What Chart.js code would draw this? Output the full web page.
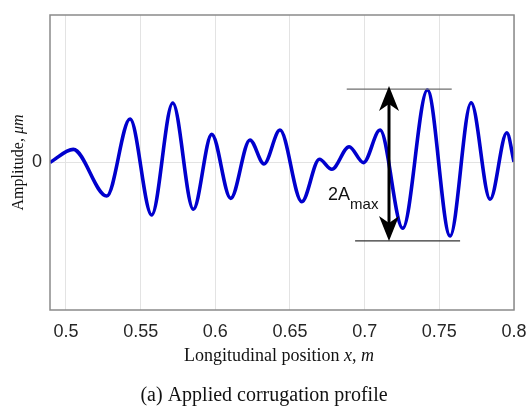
<!DOCTYPE html>
<html lang="en">
<head>
<meta charset="UTF-8">
<script src="https://cdn.jsdelivr.net/npm/chart.js@4.4.1/dist/chart.umd.min.js"></script>
<title>Applied corrugation profile</title>
<style>
  html, body { margin: 0; padding: 0; background: #fff; }
  #wrap { width: 527px; height: 407px; position: relative; }
</style>
</head>
<body>
<div id="wrap"><canvas id="chart1"></canvas></div>
<script>
// longitudinal position (m), read at the peaks/troughs of the profile
var positions = [0.4893, 0.5049, 0.5273, 0.5429, 0.5574, 0.5715, 0.5853, 0.5976, 0.6103, 0.6232,
                 0.6326, 0.6433, 0.6579, 0.6697, 0.6780, 0.6896, 0.6992, 0.7103, 0.7255, 0.7420,
                 0.7572, 0.7713, 0.7840, 0.7952, 0.8000];
// amplitude (relative, axis runs -1 .. 1)
var amplitude = [0.000, 0.089, -0.227, 0.295, -0.356, 0.403, -0.317, 0.191, -0.243, 0.153,
                 -0.010, 0.220, -0.266, 0.022, -0.046, 0.107, -0.001, 0.220, -0.446, 0.492,
                 -0.498, 0.405, -0.249, 0.202, 0.005];

var xTicks = [0.5, 0.55, 0.6, 0.65, 0.7, 0.75, 0.8];
var xTickLabels = ['0.5', '0.55', '0.6', '0.65', '0.7', '0.75', '0.8'];
var yTicks = [0];
var yTickLabels = ['0'];

// 2A_max annotation (data units)
var annTop = 0.498, annBottom = -0.532;
var annTopFrom = 0.6880, annTopTo = 0.7583;
var annBotFrom = 0.6936, annBotTo = 0.7639;
var arrowX = 0.7163;
var labelX = 0.6755, labelY = -0.254;

var points = positions.map((x, i) => ({ x: x, y: amplitude[i] }));

function drawRuns(ctx, runs, x, y, align) {
    var total = 0;
    runs.forEach(r => { ctx.font = r[1]; total += ctx.measureText(r[0]).width; });
    var cx = align === 'center' ? x - total / 2 : x;
    runs.forEach(r => {
        ctx.font = r[1];
        ctx.fillText(r[0], cx, y);
        cx += ctx.measureText(r[0]).width;
    });
}

function arrowHead(ctx, x, y, dir) {
    // dir = -1 points up, 1 points down
    ctx.beginPath();
    ctx.moveTo(x, y);
    ctx.lineTo(x - 10, y - dir * 25);
    ctx.lineTo(x, y - dir * 18);
    ctx.lineTo(x + 10, y - dir * 25);
    ctx.closePath();
    ctx.fill();
}

function noPad(s) {
    s.paddingLeft = 0; s.paddingRight = 0; s.paddingTop = 0; s.paddingBottom = 0;
}

var extras = {
    id: 'extras',
    afterDraw(chart) {
        var ctx = chart.ctx, a = chart.chartArea;
        var xs = chart.scales.x, ys = chart.scales.y;
        ctx.save();

        // axes box
        ctx.strokeStyle = '#8a8a8a';
        ctx.lineWidth = 1.5;
        ctx.strokeRect(a.left, a.top, a.right - a.left, a.bottom - a.top);

        // reference lines
        ctx.lineWidth = 1.3;
        ctx.strokeStyle = '#6e6e6e';
        ctx.beginPath();
        ctx.moveTo(xs.getPixelForValue(annTopFrom), ys.getPixelForValue(annTop));
        ctx.lineTo(xs.getPixelForValue(annTopTo), ys.getPixelForValue(annTop));
        ctx.stroke();
        ctx.strokeStyle = '#333';
        ctx.beginPath();
        ctx.moveTo(xs.getPixelForValue(annBotFrom), ys.getPixelForValue(annBottom));
        ctx.lineTo(xs.getPixelForValue(annBotTo), ys.getPixelForValue(annBottom));
        ctx.stroke();

        // double arrow
        var ax = xs.getPixelForValue(arrowX);
        var y1 = ys.getPixelForValue(annTop) - 3, y2 = ys.getPixelForValue(annBottom);
        ctx.strokeStyle = '#000';
        ctx.fillStyle = '#000';
        ctx.lineWidth = 3;
        ctx.beginPath();
        ctx.moveTo(ax, y1 + 15);
        ctx.lineTo(ax, y2 - 15);
        ctx.stroke();
        arrowHead(ctx, ax, y1, -1);
        arrowHead(ctx, ax, y2, 1);

        // 2A_max
        ctx.fillStyle = '#111';
        ctx.textBaseline = 'alphabetic';
        ctx.textAlign = 'left';
        var lx = xs.getPixelForValue(labelX), ly = ys.getPixelForValue(labelY);
        ctx.font = '18px "Liberation Sans", Arial, sans-serif';
        ctx.fillText('2A', lx, ly);
        var w = ctx.measureText('2A').width;
        ctx.font = '15px "Liberation Sans", Arial, sans-serif';
        ctx.fillText('max', lx + w, ly + 9);

        // axis titles
        var serif = '"Liberation Serif", "Times New Roman", serif';
        drawRuns(ctx, [['Longitudinal position ', '18px ' + serif], ['x', 'italic 18px ' + serif],
                       [', ', '18px ' + serif], ['m', 'italic 18px ' + serif]], 279, 361, 'center');

        ctx.save();
        ctx.translate(23, (a.top + a.bottom) / 2);
        ctx.rotate(-Math.PI / 2);
        drawRuns(ctx, [['Amplitude, ', '16px ' + serif], ['\u03bcm', 'italic 16px ' + serif]], 0, 0, 'center');
        ctx.restore();

        // caption
        drawRuns(ctx, [['(a) Applied corrugation profile', '20px ' + serif]], 264, 401, 'center');

        ctx.restore();
    }
};

var tickFont = { family: '"Liberation Sans", Arial, sans-serif', size: 18 };

var ctx = document.getElementById('chart1').getContext('2d');
var myChart = new Chart(ctx, {
    type: 'line',
    data: {
        datasets: [{
            data: points,
            borderColor: '#0000cd',
            borderWidth: 3.6,
            pointRadius: 0,
            fill: false,
            cubicInterpolationMode: 'monotone'
        }]
    },
    options: {
        responsive: true,
        maintainAspectRatio: false,
        animation: false,
        layout: { padding: { top: 15, right: 13, left: 0, bottom: 0 } },
        plugins: { legend: { display: false }, tooltip: { enabled: false } },
        scales: {
            x: {
                type: 'linear',
                min: positions[0],
                max: 0.8,
                afterBuildTicks: s => { s.ticks = xTicks.map(v => ({ value: v })); },
                afterFit: s => { s.height = 97; noPad(s); },
                ticks: {
                    autoSkip: false,
                    maxRotation: 0,
                    padding: 11,
                    color: '#262626',
                    font: tickFont,
                    callback: (v) => xTickLabels[xTicks.indexOf(v)]
                },
                grid: { color: '#e3e3e3', lineWidth: 1, drawTicks: false },
                border: { display: false }
            },
            y: {
                min: -1,
                max: 1,
                afterBuildTicks: s => { s.ticks = yTicks.map(v => ({ value: v })); },
                afterFit: s => { s.width = 50; noPad(s); },
                ticks: {
                    padding: 8,
                    color: '#262626',
                    font: tickFont,
                    callback: (v) => yTickLabels[yTicks.indexOf(v)]
                },
                grid: { color: '#e3e3e3', lineWidth: 1, drawTicks: false },
                border: { display: false }
            }
        }
    },
    plugins: [extras]
});
</script>
</body>
</html>
